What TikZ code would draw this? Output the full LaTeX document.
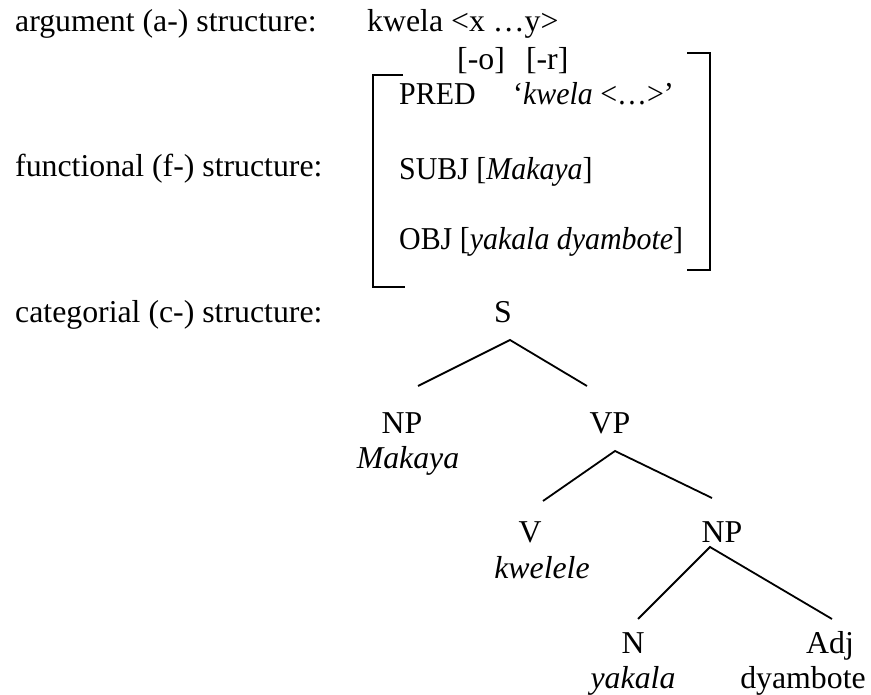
\documentclass[tikz,border=0pt]{standalone}
\usepackage{fontspec}
\setmainfont{Liberation Serif}
\newcommand\fsq[1]{\scalebox{0.94}[1]{#1}}
\begin{document}
\begin{tikzpicture}[x=1pt,y=-1pt,
  lbl/.style={anchor=base west,inner sep=0pt,font=\fontsize{31.8}{38}\selectfont},
  cat/.style={anchor=base,inner sep=0pt,font=\fontsize{31.8}{38}\selectfont},
  br/.style={line width=2pt},
  edge/.style={line width=1.8pt}]
\useasboundingbox (0,0) rectangle (871,695);
% left labels
\node[lbl] (la) at (15,32) {argument (a-) structure:};
\node[lbl] (lf) at (15,177) {functional (f-) structure:};
\node[lbl] (lc) at (15,323) {categorial (c-) structure:};
% a-structure
\node[lbl] (arg) at (367,32) {kwela <x …y>};
\node[lbl] (gf) at (457,70) {[-o]\,\ \ [-r]};
% f-structure
\node[lbl] (pred) at (399,105) {\fsq{PRED\hspace{40pt}‘\textit{kwela} <…>’}};
\node[lbl] (subj) at (399,180) {\fsq{SUBJ [\textit{Makaya}]}};
\node[lbl] (obj) at (399,250) {\fsq{OBJ [\textit{yakala dyambote}]}};
\coordinate (lbt) at (403,75);
\coordinate (lbb) at (405,287);
\coordinate (rbt) at (687,53);
\coordinate (rbb) at (687,270);
\draw[br] (lbt) -- (373,75) -- (373,287) -- (lbb);
\draw[br] (rbt) -- (710,53) -- (710,270) -- (rbb);
% c-structure
\node[cat] (S) at (503,323) {S};
\node[cat] (NP1) at (402,433) {NP};
\node[cat] (mak) at (408,468) {\textit{Makaya}};
\node[cat] (VP) at (610,433) {VP};
\node[cat] (V) at (530,542) {V};
\node[cat] (kw) at (542,578) {\textit{kwelele}};
\node[cat] (NP2) at (722,542) {NP};
\node[cat] (N) at (633,653) {N};
\node[cat] (yak) at (633,688) {\textit{yakala}};
\node[cat] (Adj) at (830,653) {Adj};
\node[cat] (dya) at (803,688) {dyambote};
\coordinate (Sb) at (510,340);
\coordinate (NP1t) at (418,386);
\coordinate (VPt) at (587,386);
\coordinate (VPb) at (615,451);
\coordinate (Vt) at (543,501);
\coordinate (NP2t) at (712,498);
\coordinate (NP2b) at (710,547);
\coordinate (Nt) at (638,619);
\coordinate (Adjt) at (832,619);
\draw[edge] (NP1t) -- (Sb) -- (VPt);
\draw[edge] (Vt) -- (VPb) -- (NP2t);
\draw[edge] (Nt) -- (NP2b) -- (Adjt);
\end{tikzpicture}
\end{document}
